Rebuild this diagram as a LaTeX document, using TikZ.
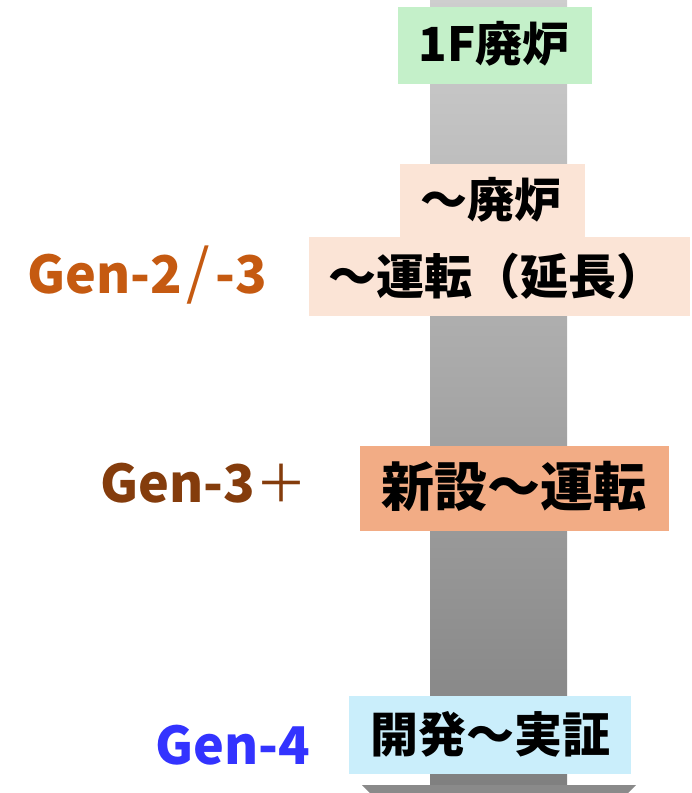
\documentclass[tikz,border=0pt]{standalone}
\usepackage{fontspec}
\newfontfamily\jp{Noto Sans CJK JP}
\definecolor{bargtop}{RGB}{206,206,206}
\definecolor{bargbot}{RGB}{128,128,128}
\definecolor{headgray}{RGB}{138,138,138}
\definecolor{fgreen}{RGB}{196,240,201}
\definecolor{fpeach}{RGB}{251,228,214}
\definecolor{fsalmon}{RGB}{242,172,133}
\definecolor{fblue}{RGB}{202,238,251}
\definecolor{corange}{RGB}{197,90,17}
\definecolor{cbrown}{RGB}{132,60,12}
\definecolor{cblue}{RGB}{51,51,255}
\tikzset{
  boxfill/.style={draw=none, inner sep=0pt, rectangle},
  jt/.style={inner sep=0pt, font=\jp\bfseries\fontsize{47}{50}\selectfont, text=black},
  gen/.style={inner sep=0pt, anchor=base west, font=\jp\bfseries\fontsize{52}{60}\selectfont},
}
\begin{document}
\begin{tikzpicture}[x=1pt,y=-1pt]
\useasboundingbox (0,0) rectangle (692,793);
% arrow
\shade[top color=bargtop, bottom color=bargbot]
  (430,-2) -- (567,-2) -- (567,785) -- (430,785) -- cycle;
\fill[headgray] (362,785) -- (636,785) -- (499,922) -- cycle;
% boxes
\node[boxfill, fill=fgreen, minimum width=194pt, minimum height=77pt] (b1) at (495,45.5) {};
\node[jt] (t1) at (494,44) {1F廃炉};
\node[boxfill, fill=fpeach, minimum width=185pt, minimum height=74pt] (b2) at (492.5,201) {};
\node[boxfill, fill=fpeach, minimum width=381pt, minimum height=79pt] (b3) at (499.5,276.5) {};
\node[jt] (t2) at (491,200) {～廃炉};
\node[jt, font=\jp\bfseries\fontsize{48}{52}\selectfont] (t3) at (496,276) {～運転（延長）};
\node[boxfill, fill=fsalmon, minimum width=309pt, minimum height=85pt] (b4) at (514.5,488.5) {};
\node[jt, font=\jp\bfseries\fontsize{53}{58}\selectfont] (t4) at (514,486) {新設～運転};
\node[boxfill, fill=fblue, minimum width=282pt, minimum height=78pt] (b5) at (490,735) {};
\node[jt, font=\jp\bfseries\fontsize{48}{52}\selectfont] (t5) at (490,734) {開発～実証};
% generation labels
\node[gen, text=corange] (g1) at (27,293) {Gen-2\kern4pt{\mdseries\fontsize{60}{60}\selectfont/}\kern6pt-3};
\node[gen, text=cbrown] (g2) at (100,502) {Gen-3{\mdseries ＋}};
\node[gen, text=cblue] (g3) at (155,764) {Gen-4};
\end{tikzpicture}
\end{document}
